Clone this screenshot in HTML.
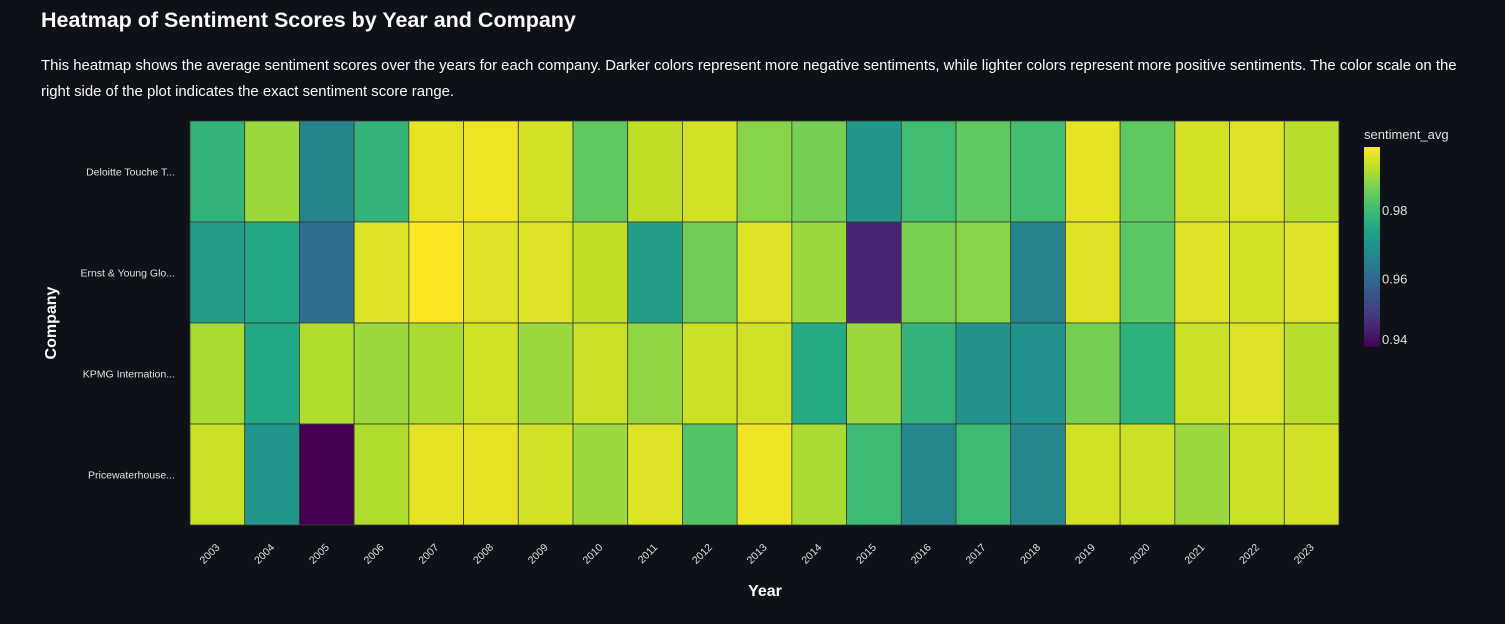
<!DOCTYPE html>
<html><head><meta charset="utf-8">
<style>
body{margin:0;background:#0e1117;width:1505px;height:624px;overflow:hidden;font-family:"Liberation Sans",sans-serif;color:#fafafa}
h1{position:absolute;left:41px;top:8px;margin:0;font-size:21.5px;font-weight:bold}
p{position:absolute;left:41px;top:53px;margin:0;width:1430px;font-size:14.9px;line-height:26px;color:#fafafa}
svg{position:absolute;left:0;top:0}
</style></head>
<body>
<h1>Heatmap of Sentiment Scores by Year and Company</h1>
<p>This heatmap shows the average sentiment scores over the years for each company. Darker colors represent more negative sentiments, while lighter colors represent more positive sentiments. The color scale on the right side of the plot indicates the exact sentiment score range.</p>
<svg id="chart" width="1505" height="624"></svg>
<script>
const years=["2003","2004","2005","2006","2007","2008","2009","2010","2011","2012","2013","2014","2015","2016","2017","2018","2019","2020","2021","2022","2023"];
const companies=["Deloitte Touche T...","Ernst & Young Glo...","KPMG Internation...","Pricewaterhouse..."];
const deloitte=[0.9780,0.9897,0.9663,0.9780,0.9962,0.9973,0.9944,0.9839,0.9927,0.9944,0.9880,0.9862,0.9710,0.9804,0.9839,0.9810,0.9962,0.9839,0.9944,0.9956,0.9921];
const ey=[0.9722,0.9751,0.9605,0.9956,0.9985,0.9956,0.9956,0.9927,0.9722,0.9856,0.9956,0.9897,0.9459,0.9868,0.9880,0.9657,0.9956,0.9833,0.9956,0.9944,0.9956];
const kpmg=[0.9909,0.9751,0.9915,0.9897,0.9909,0.9944,0.9897,0.9938,0.9886,0.9938,0.9944,0.9757,0.9897,0.9780,0.9698,0.9693,0.9862,0.9774,0.9938,0.9956,0.9921];
const pwc=[0.9938,0.9704,0.9400,0.9915,0.9962,0.9962,0.9944,0.9897,0.9956,0.9827,0.9973,0.9909,0.9798,0.9669,0.9798,0.9669,0.9944,0.9938,0.9897,0.9938,0.9944];
const rows=[deloitte,ey,kpmg,pwc];
const cbTicks=[0.94,0.96,0.98];
const zmin=0.94,zmax=0.9985;
const NS="http://www.w3.org/2000/svg";
const svg=document.getElementById('chart');
const X0=190,X1=1339,Y0=121,Y1=525;
const cw=(X1-X0)/years.length,ch=(Y1-Y0)/companies.length;
const vir=[[68,1,84],[72,36,117],[65,68,135],[53,95,141],[42,120,142],[33,145,140],[34,168,132],[68,191,112],[122,209,81],[189,223,38],[253,231,37]];
function color(v){let t=(v-zmin)/(zmax-zmin);t=Math.max(0,Math.min(1,t))*(vir.length-1);const i=Math.min(Math.floor(t),vir.length-2),f=t-i;const c=vir[i].map((a,k)=>Math.round(a+(vir[i+1][k]-a)*f));return`rgb(${c})`;}
function el(tag,attrs,txt){const e=document.createElementNS(NS,tag);for(const k in attrs)e.setAttribute(k,attrs[k]);if(txt!=null)e.textContent=txt;svg.appendChild(e);return e;}
const xPos=i=>X0+i*cw, yPos=j=>Y0+j*ch;
rows.forEach((r,j)=>r.forEach((v,i)=>{
 const c=el('rect',{x:xPos(i),y:yPos(j),width:cw,height:ch,fill:color(v),stroke:'#3a3a3a','stroke-width':0.8});
 
 
}));
companies.forEach((c,j)=>{
 const t=el('text',{x:175,y:yPos(j)+ch/2+4,'text-anchor':'end','font-size':10.5,fill:'#e0e0e0'},c);
 
 
});
years.forEach((y,i)=>{
 const cx=xPos(i)+cw/2+3,cy=548;
 const t=el('text',{x:cx,y:cy,'text-anchor':'end','font-size':10.5,fill:'#e0e0e0',transform:`rotate(-45 ${cx} ${cy})`},y);
 
 
});
let t=el('text',{x:765,y:596,'text-anchor':'middle','font-size':16,'font-weight':'bold',fill:'#fafafa'},'Year');


t=el('text',{x:56,y:323,'text-anchor':'middle','font-size':16,'font-weight':'bold',fill:'#fafafa',transform:'rotate(-90 56 323)'},'Company');


const CB0=147,CB1=347;
const defs=el('defs',{});
const g=document.createElementNS(NS,'linearGradient');g.setAttribute('id','cbg');g.setAttribute('x1',0);g.setAttribute('y1',1);g.setAttribute('x2',0);g.setAttribute('y2',0);
vir.forEach((c,k)=>{const s=document.createElementNS(NS,'stop');s.setAttribute('offset',k/(vir.length-1));s.setAttribute('stop-color',`rgb(${c})`);g.appendChild(s);});
defs.appendChild(g);
const cb=el('rect',{x:1364,y:CB0,width:16,height:CB1-CB0,fill:'url(#cbg)'});


const cbY=v=>CB1-(v-zmin)/(zmax-zmin)*(CB1-CB0);
cbTicks.forEach(v=>{
 const yy=Math.min(cbY(v),CB1-8);
 const tt=el('text',{x:1382,y:yy+5,'font-size':13,fill:'#e0e0e0'},v.toFixed(2));
 
 
});
t=el('text',{x:1364,y:139,'font-size':13,fill:'#e0e0e0'},'sentiment_avg');


</script>
</body></html>
